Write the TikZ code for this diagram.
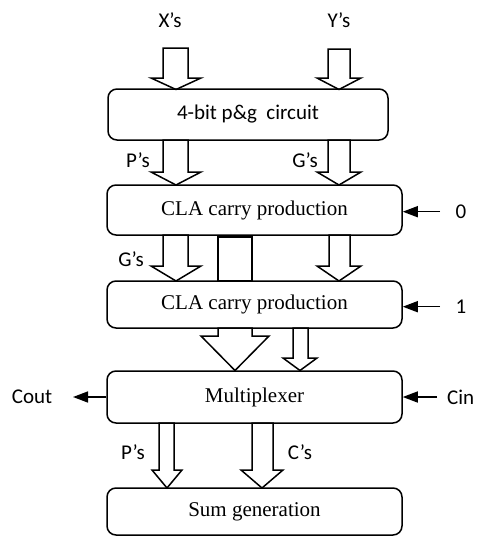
\documentclass[tikz,border=0pt]{standalone}
\usepackage{fontspec}
\setmainfont{Liberation Serif}
\newfontfamily\calib{Carlito}
\usetikzlibrary{arrows.meta,calc}
\tikzset{
  blk/.style={draw, line width=1.5pt, rounded corners=9pt, inner sep=0pt,
    minimum width=295pt, font=\fontsize{21}{25}\selectfont},
  lbl/.style={inner sep=0pt, font=\calib\fontsize{21}{25}\selectfont},
  barrow/.style={draw, line width=1.5pt, line join=miter},
  thinarrow/.style={line width=1.5pt, -{Triangle[length=15pt,width=11pt]}},
}
\newcommand{\blockarr}[7]{%
  \draw[barrow] (#1,#3) -- (#1,#4) -- (#5,#4) -- ({(#5+#6)/2},#7) -- (#6,#4) -- (#2,#4) -- (#2,#3) -- cycle;}
\begin{document}
\begin{tikzpicture}[x=1pt,y=-1pt]
\useasboundingbox (0,0) rectangle (480,536);

% boxes
\node[blk, minimum width=280pt, minimum height=51pt, font=\calib\fontsize{21}{25}\selectfont] (b1) at (248,114.5) {4-bit p\&g\ \ circuit};
\node[blk, minimum height=50pt] (b2) at (254.5,210) {CLA carry production};
\node[blk, minimum height=47pt] (b3) at (254.5,304.5) {CLA carry production};
\node[blk, minimum height=52pt] (mux) at (254.5,397) {Multiplexer};
\node[blk, minimum height=47pt] (sum) at (254.5,511.5) {Sum generation};

% labels
\node[lbl] (lx) at (170,20) {X’s};
\node[lbl] (ly) at (339,20) {Y’s};
\node[lbl] (lp1) at (138,160) {P’s};
\node[lbl] (lg1) at (305,160) {G’s};
\node[lbl] (lg2) at (131,259) {G’s};
\node[lbl] (l0) at (461,212) {0};
\node[lbl] (l1) at (461,307) {1};
\node[lbl] (lcout) at (32,397) {Cout};
\node[lbl, anchor=west] (lcin) at (447,397) {Cin};
\node[lbl] (lp2) at (133,452) {P’s};
\node[lbl] (lc2) at (300,452) {C’s};

% block arrows: shaft left, shaft right, top, head base, head left, head right, tip
\blockarr{163}{188}{48}{78}{151}{201}{89.5}
\blockarr{328}{350}{49}{78}{317}{361}{89.5}
\blockarr{163}{188}{140}{172}{151}{201}{185}
\blockarr{328}{350}{140}{172}{317}{361}{185}
\blockarr{163}{188}{235}{266}{151}{201}{281}
\blockarr{329}{350}{235}{266}{317}{361}{281}
\draw[barrow] (218,237) rectangle (252,281);
\blockarr{218}{252}{328}{336}{201}{269}{370.5}
\blockarr{293}{308}{328}{358}{283}{317}{370.5}
\blockarr{159}{174}{423}{470}{152}{182}{488}
\blockarr{252}{273}{423}{470}{241}{283}{488}

% thin arrows
\coordinate (s0) at (440,211.7);
\coordinate (s1) at (440,306.7);
\coordinate (coutend) at (73,397);
\coordinate (cinstart) at (437,397);
\draw[thinarrow] (s0) -- (s0 -| b2.east);
\draw[thinarrow] (s1) -- (s1 -| b3.east);
\draw[thinarrow] (mux.west) -- (coutend);
\draw[thinarrow] (cinstart) -- (mux.east);
\end{tikzpicture}
\end{document}
